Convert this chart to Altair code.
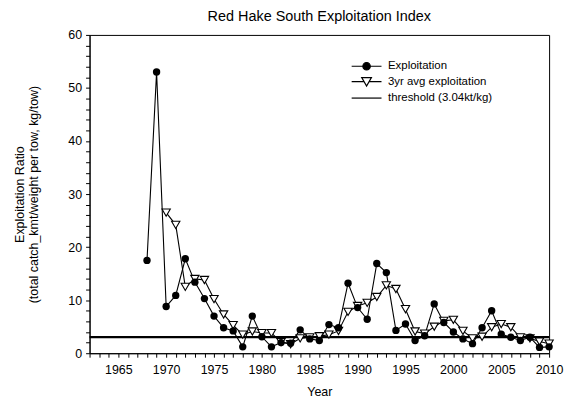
import altair as alt
import pandas as pd

# ---- data ----
exp_years = list(range(1968, 2011))
exploitation = [17.5, 53.0, 8.8, 10.9, 17.8, 13.4, 10.3, 7.0, 4.8, 4.2,
                1.2, 7.0, 3.1, 1.2, 2.0, 1.9, 4.4, 2.7, 2.4, 5.4,
                4.8, 13.2, 8.6, 6.4, 16.9, 15.2, 4.3, 5.5, 2.4, 3.3,
                9.3, 5.8, 4.0, 2.7, 1.8, 4.8, 8.0, 3.6, 3.0, 2.4,
                3.0, 1.1, 1.2]
avg_years = list(range(1970, 2011))
avg_exploitation = [26.5, 24.2, 12.5, 14.0, 13.8, 10.2, 7.3, 5.3, 3.5, 4.1,
                    3.8, 3.8, 2.1, 1.7, 2.8, 3.0, 3.2, 3.5, 4.2, 7.8,
                    8.9, 9.5, 10.6, 12.8, 12.1, 8.3, 4.1, 3.7, 5.0, 6.1,
                    6.3, 4.2, 2.8, 3.1, 4.9, 5.5, 4.9, 3.0, 2.8, 2.2, 1.8]
threshold = [3.04]
series_names = ["Exploitation", "3yr avg exploitation", "threshold (3.04kt/kg)"]
x_tick_values = list(range(1962, 2011))
y_tick_values = list(range(0, 61, 2))

df_exp = pd.DataFrame({"Year": exp_years, "Value": exploitation})
df_avg = pd.DataFrame({"Year": avg_years, "Value": avg_exploitation})
df_thr = pd.DataFrame({"Value": threshold})
df_leg = pd.DataFrame({"Series": series_names})

FONT = "Liberation Sans"

x_enc = alt.X(
    "Year:Q",
    scale=alt.Scale(domain=[1962, 2010], nice=False, zero=False),
    axis=alt.Axis(
        values=x_tick_values,
        format="d",
        labelExpr="datum.value % 5 === 0 ? datum.label : ''",
        labelOverlap=False,
        labelFlush=False,
        tickSize=4,
        labelPadding=6,
        titlePadding=10,
    ),
    title="Year",
)
y_enc = alt.Y(
    "Value:Q",
    scale=alt.Scale(domain=[0, 60], nice=False),
    axis=alt.Axis(
        values=y_tick_values,
        labelExpr="datum.value % 10 === 0 ? datum.label : ''",
        labelOverlap=False,
        tickSize=4,
        labelPadding=4,
        titlePadding=27,
    ),
    title=["Exploitation Ratio", "(total catch_kmt/weight per tow, kg/tow)"],
)

thr = alt.Chart(df_thr).mark_rule(color="black", strokeWidth=2.2).encode(
    y=y_enc
)
avg_line = alt.Chart(df_avg).mark_line(color="black", strokeWidth=1.1).encode(
    x=x_enc, y=y_enc
)
exp_line = alt.Chart(df_exp).mark_line(color="black", strokeWidth=1.1).encode(
    x=x_enc, y=y_enc
)
avg_pts = alt.Chart(df_avg).mark_point(
    shape="triangle-down", filled=True, fill="white", stroke="black",
    strokeWidth=1.1, size=70, opacity=1
).encode(x=x_enc, y=y_enc)
exp_pts = alt.Chart(df_exp).mark_circle(
    color="black", size=55, opacity=1
).encode(x=x_enc, y=y_enc)

# legend-only layer (no marks drawn, legend built from the scale domain)
circle_path = "M-2,0H2M0.5,0A0.5,0.5,0,1,1,-0.5,0A0.5,0.5,0,1,1,0.5,0Z"
tri_path = "M-2,0H-0.36M0.36,0H2M-0.65,-0.55L0.65,-0.55L0,0.6Z"
line_path = "M-2,0H2"
legend_layer = alt.Chart(df_leg).mark_point(filled=True, strokeWidth=1.2, opacity=1).encode(
    shape=alt.Shape(
        "Series:N",
        scale=alt.Scale(domain=series_names, range=[circle_path, tri_path, line_path]),
        legend=alt.Legend(
            title=None,
            orient="none",
            legendX=270,
            legendY=23,
            symbolSize=225,
            labelFont=FONT,
            labelFontSize=11.5,
            labelColor="black",
            labelOffset=13,
            rowPadding=0.5,
            padding=0,
            symbolStrokeWidth=1.2,
            symbolOpacity=1,
        ),
    ),
    fill=alt.Fill(
        "Series:N",
        scale=alt.Scale(domain=series_names, range=["black", "white", "white"]),
        legend=alt.Legend(title=None),
    ),
    stroke=alt.Stroke(
        "Series:N",
        scale=alt.Scale(domain=series_names, range=["black", "black", "black"]),
        legend=alt.Legend(title=None),
    ),
).transform_filter("false")

chart = alt.layer(
    thr, avg_line, exp_line, avg_pts, exp_pts, legend_layer
).properties(
    width=462,
    height=320,
    background="white",
    padding={"left": 5, "top": 0, "right": 5, "bottom": 5},
    title=alt.TitleParams(
        "Red Hake South Exploitation Index",
        font=FONT, fontSize=14.5, fontWeight="normal", color="black",
        offset=4,
    ),
).configure_view(
    stroke="black", strokeWidth=1
).configure_axis(
    grid=False,
    domainColor="black",
    tickColor="black",
    labelColor="black",
    titleColor="black",
    labelFont=FONT,
    titleFont=FONT,
    labelFontSize=12.5,
    titleFontSize=12.5,
    titleFontWeight="normal",
)

chart.save("out.html", embed_options={"renderer": "svg", "actions": False})
